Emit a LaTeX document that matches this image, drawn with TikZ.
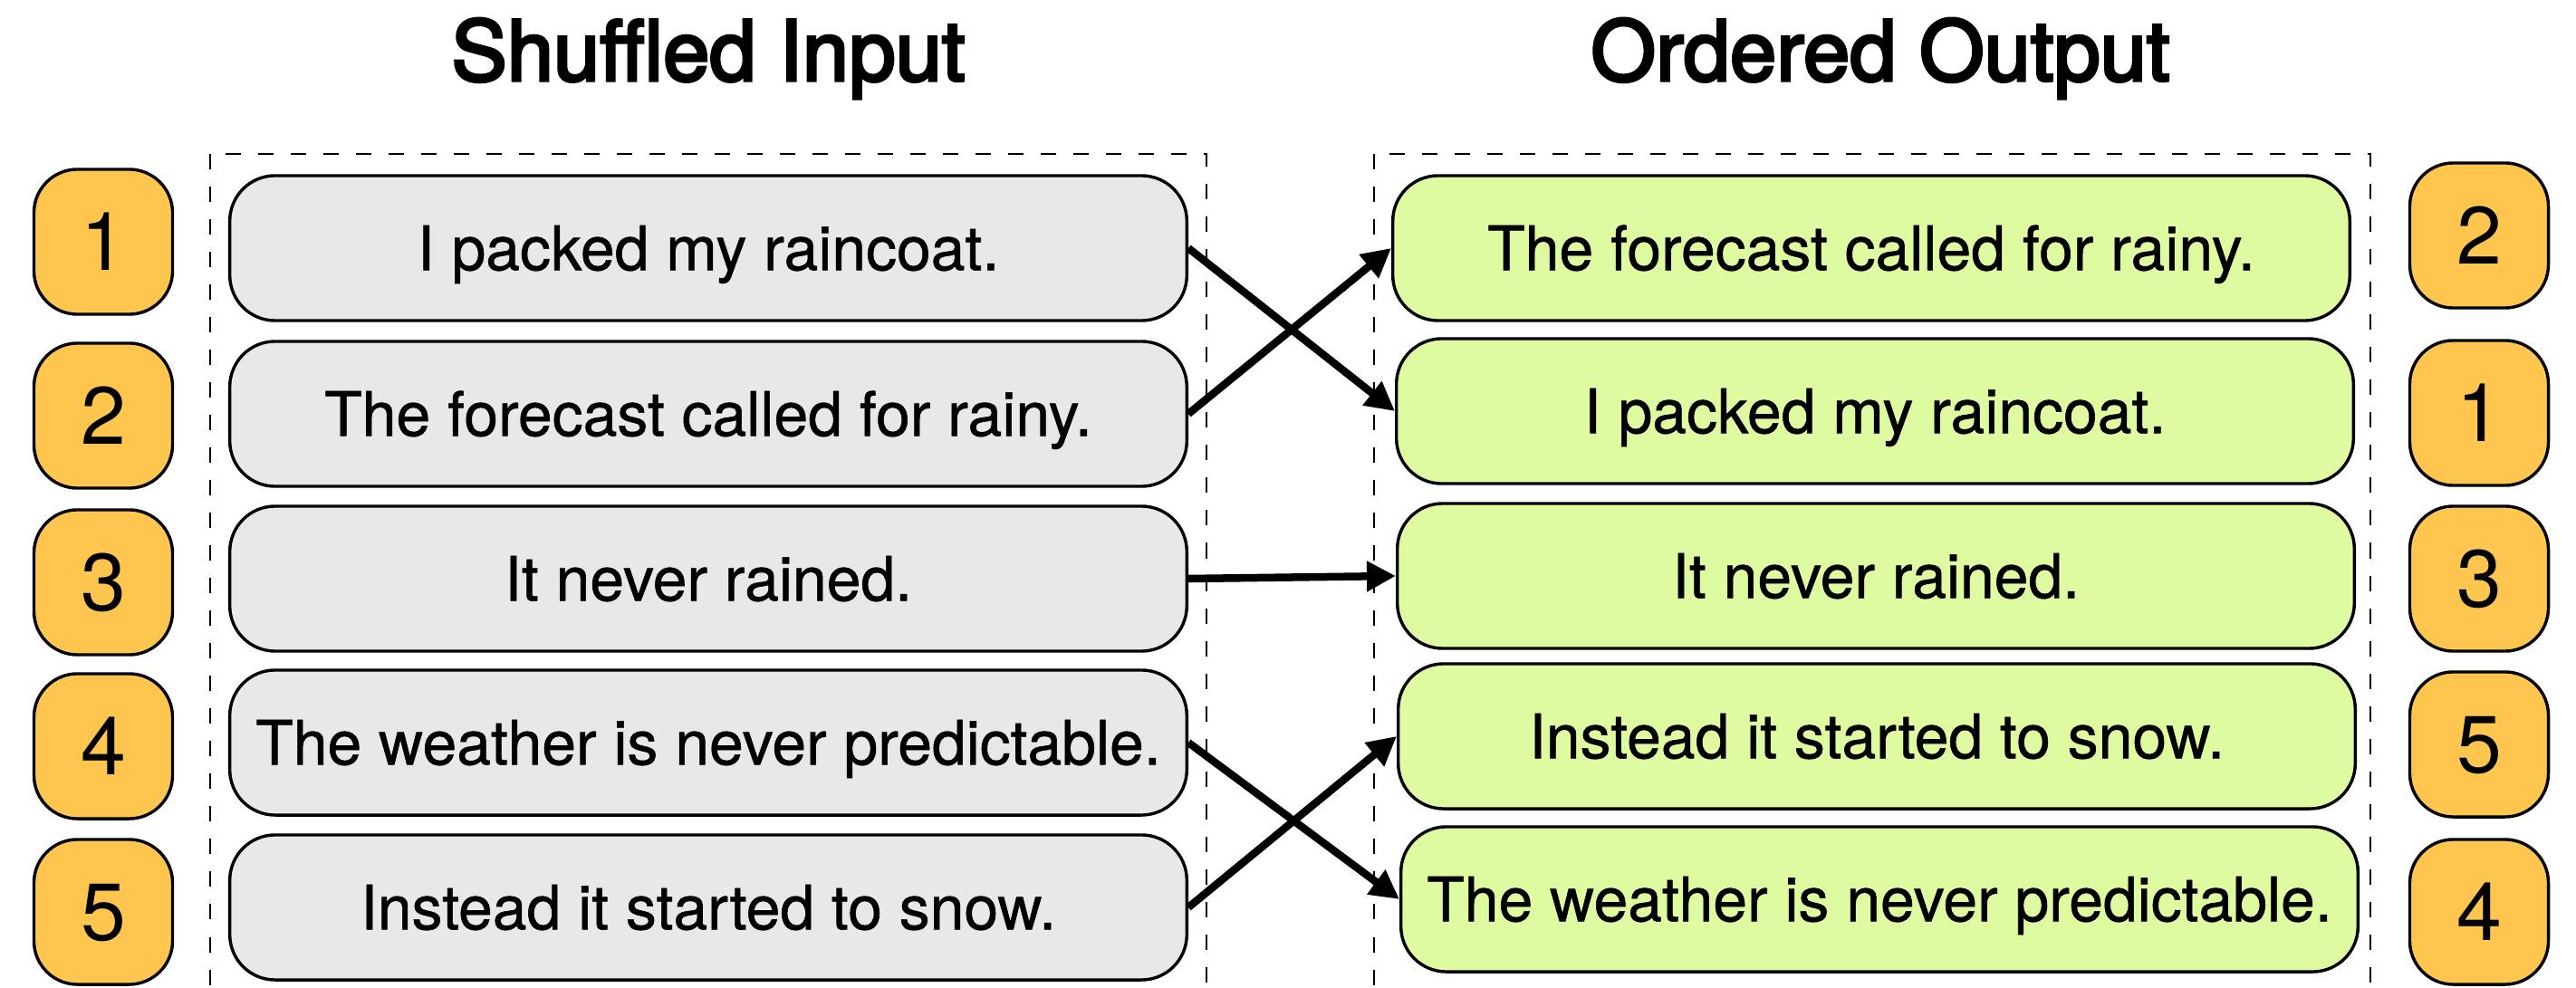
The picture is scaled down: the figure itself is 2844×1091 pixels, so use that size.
\documentclass[tikz,border=0pt]{standalone}
\usepackage{fontspec}
\setmainfont{TeX Gyre Heros}
\newfontfamily\sentfont{TeX Gyre Heros}[FakeBold=0.8]
\newfontfamily\headfont{TeX Gyre Heros}[FakeBold=3.5]
\usetikzlibrary{arrows.meta}
\definecolor{sentgray}{HTML}{E8E8E8}
\definecolor{sentgreen}{HTML}{DFFBA1}
\definecolor{badgeorange}{HTML}{FEC64F}

\begin{document}
\begin{tikzpicture}[x=0.01cm, y=-0.01cm,
  sentence/.style={draw=black, line width=0.034cm, rounded corners=0.5cm,
    minimum width=10.56cm, minimum height=1.6cm, inner sep=0pt,
    text height=0.485cm, text depth=0pt, font=\sentfont\fontsize{19.3}{23}\selectfont},
  inbox/.style={sentence, fill=sentgray},
  outbox/.style={sentence, fill=sentgreen},
  badge/.style={draw=black, line width=0.034cm, fill=badgeorange, rounded corners=0.48cm,
    minimum width=1.53cm, minimum height=1.6cm, inner sep=0pt,
    text height=0.63cm, text depth=0pt, font=\fontsize{25.5}{30}\selectfont},
  heading/.style={anchor=base, inner sep=0pt, font=\headfont\fontsize{26.2}{31}\selectfont},
  group/.style={draw=black, line width=0.027cm, dash pattern=on 0.17cm off 0.19cm},
  link/.style={line width=0.085cm, -{Triangle[length=0.32cm,width=0.32cm]}}
]
\useasboundingbox (0,0) rectangle (2844,1091);
\clip (0,0) rectangle (2844,1091);

% column headings
\node[heading] (tin)  at (782,89)  {Shuffled Input};
\node[heading] (tout) at (2076,89) {Ordered Output};

% dashed frames around both columns (open at the bottom edge)
\draw[group] (232,170) rectangle (1332,1140);
\draw[group] (1517,170) rectangle (2617,1140);

% shuffled sentences
\node[inbox] (in1) at (782,274)  {I packed my raincoat.};
\node[inbox] (in2) at (782,457)  {The forecast called for rainy.};
\node[inbox] (in3) at (782,639)  {It never rained.};
\node[inbox] (in4) at (782,820)  {The weather is never predictable.};
\node[inbox] (in5) at (782,1002) {Instead it started to snow.};

% ordered sentences
\node[outbox] (out1) at (2066,274) {The forecast called for rainy.};
\node[outbox] (out2) at (2070,454) {I packed my raincoat.};
\node[outbox] (out3) at (2071,636) {It never rained.};
\node[outbox] (out4) at (2072,813) {Instead it started to snow.};
\node[outbox] (out5) at (2075,993) {The weather is never predictable.};

% position badges
\node[badge] (ib1) at (114,267)  {1};
\node[badge] (ib2) at (114,459)  {2};
\node[badge] (ib3) at (114,643)  {3};
\node[badge] (ib4) at (114,824)  {4};
\node[badge] (ib5) at (114,1007) {5};

\node[badge] (ob1) at (2737,260)  {2};
\node[badge] (ob2) at (2737,456)  {1};
\node[badge] (ob3) at (2737,639)  {3};
\node[badge] (ob4) at (2737,822)  {5};
\node[badge] (ob5) at (2737,1007) {4};

% reordering arrows
\draw[link] (in1.east) -- (out2.west);
\draw[link] (in2.east) -- (out1.west);
\draw[link] (in3.east) -- (out3.west);
\draw[link] (in4.east) -- (out5.west);
\draw[link] (in5.east) -- (out4.west);
\end{tikzpicture}
\end{document}
